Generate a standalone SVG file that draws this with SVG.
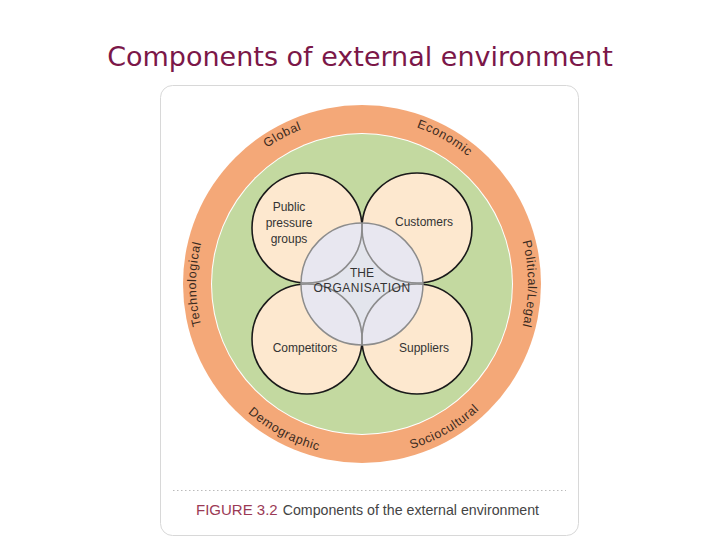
<svg xmlns="http://www.w3.org/2000/svg" width="720" height="540" viewBox="0 0 720 540">
<style>
.ring{font-family:"Liberation Sans",Arial,sans-serif;font-size:12.5px;fill:#3a2a20;letter-spacing:0.6px}
.lbl{font-family:"Liberation Sans",Arial,sans-serif;font-size:12px;fill:#333;text-anchor:middle}
.sc{fill:#fde8cf;stroke:#1a1a1a;stroke-width:1.6}
</style>
<defs>
<path id="cw" d="M362,450 A166,166 0 1 1 362,118 A166,166 0 1 1 362,450"/>
<path id="ccw" d="M362,112 A172,172 0 1 0 362,456 A172,172 0 1 0 362,112"/>
<clipPath id="org"><circle cx="362" cy="284" r="61"/></clipPath>
</defs>
<rect width="720" height="540" fill="#fff"/>
<text x="360" y="66" text-anchor="middle" font-family="DejaVu Sans,sans-serif" font-size="27" fill="#7b1748">Components of external environment</text>
<rect x="160.5" y="85.5" width="418" height="450" rx="12" fill="#fff" stroke="#d8d8d8"/>
<g id="ring">
<circle cx="362" cy="284" r="179" fill="#f4a878"/>
<circle cx="362" cy="284" r="151" fill="#fff"/>
<circle cx="362" cy="284" r="150" fill="#c3d9a0"/>
<text class="ring"><textPath href="#cw" startOffset="25%" text-anchor="middle">Technological</textPath></text>
<text class="ring"><textPath href="#cw" startOffset="42.2%" text-anchor="middle">Global</textPath></text>
<text class="ring"><textPath href="#cw" startOffset="58.2%" text-anchor="middle">Economic</textPath></text>
<text class="ring"><textPath href="#cw" startOffset="75%" text-anchor="middle">Political/Legal</textPath></text>
<text class="ring"><textPath href="#ccw" startOffset="42.2%" text-anchor="middle">Demographic</textPath></text>
<text class="ring"><textPath href="#ccw" startOffset="58.3%" text-anchor="middle">Sociocultural</textPath></text>
</g>
<g id="public"><circle class="sc" cx="307" cy="228" r="55"/></g>
<g id="customers"><circle class="sc" cx="417" cy="228" r="55"/></g>
<g id="competitors"><circle class="sc" cx="307" cy="339" r="55"/></g>
<g id="suppliers"><circle class="sc" cx="417" cy="339" r="55"/></g>
<g id="organisation">
<circle cx="362" cy="284" r="61" fill="#e6e6f3" fill-opacity="0.92" stroke="#8c8c8c" stroke-width="1.5"/>
<g clip-path="url(#org)" fill="none" stroke="#8c8c8c" stroke-width="1.5">
<circle cx="307" cy="228" r="55"/><circle cx="417" cy="228" r="55"/>
<circle cx="307" cy="339" r="55"/><circle cx="417" cy="339" r="55"/>
</g>
<text class="lbl" x="362" y="277" font-size="12.5">THE</text>
<text class="lbl" x="362" y="292" font-size="12.5" letter-spacing="0.5">ORGANISATION</text>
</g>
<text class="lbl" x="289" y="211">Public</text>
<text class="lbl" x="289" y="227">pressure</text>
<text class="lbl" x="289" y="243">groups</text>
<text class="lbl" x="424" y="226">Customers</text>
<text class="lbl" x="305" y="352">Competitors</text>
<text class="lbl" x="424" y="352">Suppliers</text>
<line x1="173" y1="490.5" x2="566" y2="490.5" stroke="#bbb" stroke-dasharray="1.5,2.5"/>
<text x="196" y="515" font-family="Liberation Sans,Arial,sans-serif" font-size="15"><tspan fill="#9b3a55">FIGURE 3.2</tspan><tspan fill="#444" font-size="14.2" dx="5">Components of the external environment</tspan></text>
</svg>
